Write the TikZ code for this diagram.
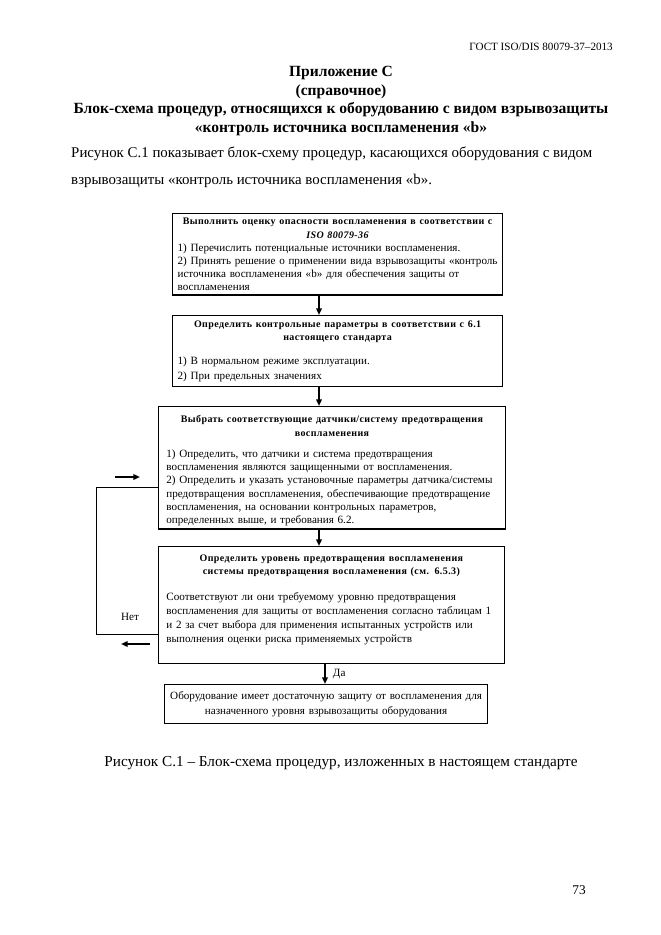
\documentclass[tikz,border=0pt]{standalone}
\usepackage{fontspec}
\setmainfont{Liberation Serif}
\newfontfamily\shapkafont[LetterSpace=4]{Liberation Serif}
\usetikzlibrary{positioning, arrows.meta, calc}

\begin{document}
\begin{tikzpicture}[x=0.9pt, y=-0.9pt, >={Triangle[width=5pt,length=6pt]},
    blok/.style={draw, line width=1.1pt, anchor=north west, align=left, inner xsep=4.5pt, inner ysep=3pt,
        font=\fontsize{10}{11.7}\selectfont},
    strelka/.style={->, line width=1.6pt},
    svyaz/.style={line width=0.8pt},
    tekst/.style={inner sep=0pt, font=\fontsize{13.7}{16}\selectfont}]
    \def\shapka{\shapkafont\bfseries\fontsize{9}{12}\selectfont}
    \useasboundingbox (0,0) rectangle (661,935);
    % Page head
    \node[tekst, anchor=east, font=\fontsize{10}{12}\selectfont] (gost) at (613,47) {ГОСТ ISO/DIS 80079-37–2013};
    \node[tekst, align=center, font=\bfseries\fontsize{14}{16.8}\selectfont] (title) at (341,101)
        {Приложение С\\(справочное)\\Блок-схема процедур, относящихся к оборудованию с видом взрывозащиты\\«контроль источника воспламенения «b»};
    \node[tekst, anchor=west, align=left, font=\fontsize{13.4}{24.3}\selectfont] (intro) at (71,167.5)
        {Рисунок С.1 показывает блок-схему процедур, касающихся оборудования с видом\\взрывозащиты «контроль источника воспламенения «b».};
    % Boxes
    \node[blok, text width=288pt, inner ysep=4.2pt] (b1) at (172,213)
        {{\centering\shapka Выполнить оценку опасности воспламенения в соответствии с\\\textit{ISO 80079-36}\par}
        1) Перечислить потенциальные источники воспламенения.\\
        2) Принять решение о применении вида взрывозащиты «контроль\\
        источника воспламенения «b» для обеспечения защиты от\\
        воспламенения};
    \node[blok, text width=288pt, inner ysep=4.5pt, font=\fontsize{10}{13.5}\selectfont] (b2) at (172,315)
        {{\centering\shapka Определить контрольные параметры в соответствии с 6.1\\настоящего стандарта\par}
        \vspace{8pt}
        1) В нормальном режиме эксплуатации.\\
        2) При предельных значениях};
    \node[blok, text width=298pt, inner xsep=7pt, inner ysep=2.5pt, font=\fontsize{10}{12}\selectfont] (b3) at (158,406)
        {{\centering\shapka\rule{0pt}{12pt}Выбрать соответствующие датчики/систему предотвращения\\воспламенения\par}
        \vspace{7pt}
        1) Определить, что датчики и система предотвращения\\
        воспламенения являются защищенными от воспламенения.\\
        2) Определить и указать установочные параметры датчика/системы\\
        предотвращения воспламенения, обеспечивающие предотвращение\\
        воспламенения, на основании контрольных параметров,\\
        определенных выше, и требования 6.2.};
    \node[blok, text width=297pt, inner xsep=7pt, inner ysep=5pt, font=\fontsize{10}{12.6}\selectfont] (b4) at (158,546)
        {{\centering\shapka\rule{0pt}{8.5pt}Определить уровень предотвращения воспламенения\\системы предотвращения воспламенения (см. 6.5.3)\par}
        \vspace{10pt}
        Соответствуют ли они требуемому уровню предотвращения\\
        воспламенения для защиты от воспламенения согласно таблицам 1\\
        и 2 за счет выбора для применения испытанных устройств или\\
        выполнения оценки риска применяемых устройств\\[2pt]
        \mbox{}};
    \node[blok, text width=281.7pt, align=center, inner ysep=6pt, font=\fontsize{10}{13.5}\selectfont] (b5) at (164,684)
        {Оборудование имеет достаточную защиту от воспламенения для\\назначенного уровня взрывозащиты оборудования};
    % Arrows down
    \coordinate (ax) at (319,0);
    \coordinate (ad) at (325,0);
    \draw[strelka] (b1.south -| ax) -- (b2.north -| ax);
    \draw[strelka] (b2.south -| ax) -- (b3.north -| ax);
    \draw[strelka] (b3.south -| ax) -- (b4.north -| ax);
    \draw[strelka] (b4.south -| ad) -- (b5.north -| ad) node[midway, right=3pt, font=\fontsize{10}{12}\selectfont] (da) {Да};
    % Return line
    \coordinate (fbx) at (96,0);
    \coordinate (nety) at (0,634);
    \coordinate (vhody) at (0,487);
    \draw[svyaz] (b4.west |- nety) -- (fbx |- nety) -- (fbx |- vhody) -- (b3.west |- vhody);
    \node[font=\fontsize{10}{12}\selectfont] (net) at (130,617) {Нет};
    \coordinate (p1) at (115,477);
    \coordinate (p2) at (140,477);
    \coordinate (p3) at (150,644);
    \coordinate (p4) at (121,644);
    \draw[strelka] (p1) -- (p2);
    \draw[strelka] (p3) -- (p4);
    % Caption
    \node[tekst] (cap) at (341,763) {Рисунок С.1 – Блок-схема процедур, изложенных в настоящем стандарте};
    \node[tekst, font=\fontsize{12}{14}\selectfont] (page) at (579,890) {73};
\end{tikzpicture}
\end{document}
